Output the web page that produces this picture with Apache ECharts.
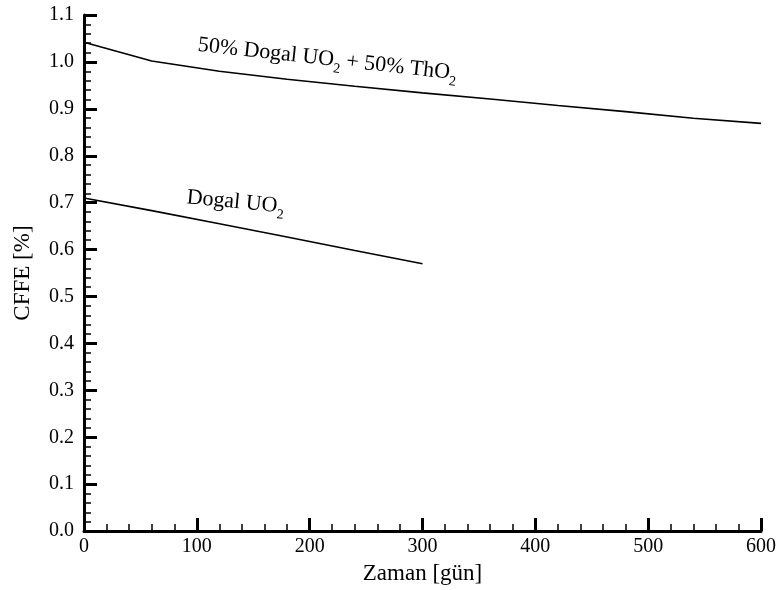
<!DOCTYPE html>
<html>
<head>
<meta charset="utf-8">
<script src="https://cdn.jsdelivr.net/npm/echarts@6/dist/echarts.min.js"></script>
<style>
  html, body { margin: 0; padding: 0; background: #fff; }
  #chart { width: 779px; height: 590px; }
</style>
</head>
<body>
<div id="chart"></div>
<script>
  // days
  const daysMix = [0, 60, 120, 180, 240, 300, 360, 420, 480, 540, 600];
  const cffeMix = [1.042, 1.002, 0.980, 0.963, 0.948, 0.934, 0.921, 0.907, 0.894, 0.880, 0.869];
  const daysUO2 = [0, 60, 120, 180, 240, 300];
  const cffeUO2 = [0.710, 0.683, 0.655, 0.627, 0.598, 0.570];

  const xTicks = { min: 0, max: 600, interval: 100 };
  const yTicks = { min: 0, max: 1.1, interval: 0.1 };

  // where the curve names sit (data coords)
  const labelMix = { at: [101, 1.036], text: '{n|50% Dogal UO}{s|2}{n| + 50% ThO}{s|2}', rot: -0.11 };
  const labelUO2 = { at: [91, 0.711], text: '{n|Dogal UO}{s|2}', rot: -0.095 };

  const font = 'Liberation Serif';
  const dom = document.getElementById('chart');
  const myChart = echarts.init(dom);

  function pairs(xs, ys) {
    return xs.map(function (x, i) { return [x, ys[i]]; });
  }

  const axisCommon = {
    axisLine: { show: true, onZero: false, lineStyle: { color: '#000', width: 3 } },
    axisTick: { show: true, inside: true, length: 13, lineStyle: { color: '#000', width: 3 } },
    minorTick: { show: true, splitNumber: 5, length: 7, lineStyle: { color: '#000', width: 1.5 } },
    splitLine: { show: false },
    minorSplitLine: { show: false },
    axisLabel: { color: '#000', fontFamily: font, fontSize: 20 },
    nameTextStyle: { color: '#000', fontFamily: font, fontSize: 23 }
  };

  myChart.setOption({
    animation: false,
    backgroundColor: '#fff',
    grid: { left: 84, right: 16, top: 15, bottom: 52, containLabel: false },
    xAxis: Object.assign({}, axisCommon, {
      type: 'value',
      min: xTicks.min, max: xTicks.max, interval: xTicks.interval,
      name: 'Zaman [gün]',
      nameLocation: 'middle',
      nameGap: 26,
      axisLabel: Object.assign({}, axisCommon.axisLabel, { margin: 6 })
    }),
    yAxis: Object.assign({}, axisCommon, {
      type: 'value',
      min: yTicks.min, max: yTicks.max, interval: yTicks.interval,
      name: 'CFFE [%]',
      nameLocation: 'middle',
      nameGap: 50,
      axisLabel: Object.assign({}, axisCommon.axisLabel, {
        margin: 10,
        formatter: function (v) { return v.toFixed(1); }
      })
    }),
    series: [
      {
        name: '50% Dogal UO2 + 50% ThO2',
        type: 'line',
        data: pairs(daysMix, cffeMix),
        showSymbol: false,
        lineStyle: { color: '#000', width: 1.6 }
      },
      {
        name: 'Dogal UO2',
        type: 'line',
        data: pairs(daysUO2, cffeUO2),
        showSymbol: false,
        lineStyle: { color: '#000', width: 1.6 }
      }
    ]
  });

  // curve names, placed with the chart's own scale
  const rich = {
    n: { fontFamily: font, fontSize: 22, color: '#000', lineHeight: 24 },
    s: { fontFamily: font, fontSize: 14, color: '#000', lineHeight: 14, padding: [17, 0, 0, 0] }
  };
  function nameText(lbl) {
    const p = myChart.convertToPixel({ gridIndex: 0 }, lbl.at);
    return {
      type: 'text',
      x: p[0], y: p[1],
      rotation: lbl.rot,
      style: { text: lbl.text, rich: rich, align: 'left', verticalAlign: 'middle' }
    };
  }
  myChart.setOption({ graphic: [nameText(labelMix), nameText(labelUO2)] });
</script>
</body>
</html>
